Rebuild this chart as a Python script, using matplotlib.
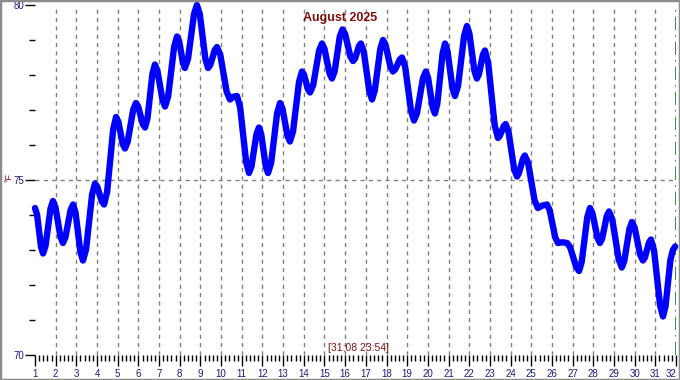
import matplotlib
matplotlib.use("Agg")
import matplotlib.pyplot as plt
from matplotlib.ticker import MultipleLocator
from matplotlib.patches import Rectangle

plt.rcParams['font.family'] = ['Liberation Sans', 'DejaVu Sans']

# Temperature readings (position on the day axis, °F)
day_pos = [1.00, 1.10, 1.29, 1.39, 1.51, 1.75, 1.87, 1.99, 2.23, 2.35,
           2.47, 2.72, 2.84, 2.96, 3.20, 3.32, 3.47, 3.76, 3.90, 4.01,
           4.23, 4.34, 4.49, 4.78, 4.92, 5.03, 5.24, 5.35, 5.48, 5.75,
           5.88, 5.99, 6.21, 6.32, 6.44, 6.68, 6.80, 6.92, 7.17, 7.29,
           7.44, 7.73, 7.87, 7.97, 8.16, 8.25, 8.40, 8.69, 8.83, 8.97,
           9.24, 9.37, 9.48, 9.69, 9.80, 9.96, 10.27, 10.43, 10.60, 10.77,
           10.92, 11.21, 11.35, 11.47, 11.71, 11.83, 11.94, 12.16, 12.27, 12.42,
           12.71, 12.85, 12.97, 13.21, 13.33, 13.48, 13.77, 13.91, 14.01, 14.20,
           14.30, 14.45, 14.74, 14.88, 15.00, 15.24, 15.36, 15.49, 15.74, 15.87,
           16.00, 16.25, 16.38, 16.48, 16.67, 16.76, 16.90, 17.17, 17.30, 17.43,
           17.70, 17.83, 17.95, 18.19, 18.31, 18.42, 18.64, 18.75, 18.90, 19.19,
           19.33, 19.47, 19.76, 19.90, 20.01, 20.23, 20.34, 20.46, 20.71, 20.83,
           20.95, 21.19, 21.31, 21.46, 21.75, 21.89, 22.01, 22.25, 22.37, 22.47,
           22.66, 22.76, 22.92, 23.23, 23.39, 23.48, 23.67, 23.76, 23.90, 24.17,
           24.31, 24.40, 24.60, 24.69, 24.85, 25.16, 25.32, 25.54, 25.76, 25.89,
           26.16, 26.29, 26.51, 26.73, 26.88, 27.17, 27.31, 27.44, 27.71, 27.84,
           27.96, 28.20, 28.32, 28.43, 28.65, 28.76, 28.92, 29.23, 29.38, 29.50,
           29.75, 29.87, 30.00, 30.27, 30.40, 30.50, 30.69, 30.79, 30.94, 31.23,
           31.37, 31.49, 31.73, 31.85, 31.96]
temp_f = [74.20, 74.01, 73.09, 72.90, 73.12, 74.18, 74.40, 74.22, 73.38, 73.20,
          73.36, 74.14, 74.30, 74.07, 72.93, 72.70, 73.02, 74.58, 74.90, 74.81,
          74.39, 74.30, 74.67, 76.44, 76.80, 76.67, 76.03, 75.90, 76.09, 77.01,
          77.20, 77.10, 76.60, 76.50, 76.76, 78.04, 78.30, 78.12, 77.28, 77.10,
          77.39, 78.81, 79.10, 78.97, 78.33, 78.20, 78.46, 79.74, 80.00, 79.74,
          78.46, 78.20, 78.29, 78.71, 78.80, 78.58, 77.52, 77.30, 77.38, 77.40,
          77.08, 75.52, 75.20, 75.39, 76.31, 76.50, 76.31, 75.39, 75.20, 75.49,
          76.91, 77.20, 77.04, 76.26, 76.10, 76.39, 77.81, 78.10, 78.01, 77.59,
          77.50, 77.70, 78.70, 78.90, 78.75, 78.05, 77.90, 78.10, 79.10, 79.30,
          79.17, 78.53, 78.40, 78.47, 78.83, 78.90, 78.67, 77.53, 77.30, 77.55,
          78.75, 79.00, 78.87, 78.23, 78.10, 78.16, 78.44, 78.50, 78.24, 76.96,
          76.70, 76.90, 77.90, 78.10, 77.92, 77.08, 76.90, 77.19, 78.61, 78.90,
          78.68, 77.62, 77.40, 77.69, 79.11, 79.40, 79.18, 78.12, 77.90, 78.02,
          78.58, 78.70, 78.33, 76.57, 76.20, 76.26, 76.54, 76.60, 76.38, 75.32,
          75.10, 75.19, 75.61, 75.70, 75.48, 74.42, 74.20, 74.27, 74.30, 74.14,
          73.36, 73.20, 73.22, 73.20, 73.08, 72.52, 72.40, 72.66, 73.94, 74.20,
          74.05, 73.35, 73.20, 73.33, 73.97, 74.10, 73.87, 72.73, 72.50, 72.69,
          73.61, 73.80, 73.64, 72.86, 72.70, 72.79, 73.21, 73.30, 72.98, 71.42,
          71.10, 71.38, 72.72, 73.00, 73.10]

day_ticks = list(range(1, 33))
temp_ticks = [70, 75, 80]
title_text = "August 2025"
stamp_text = "[31;08 23:54]"
unit_text = "°F"

W, H = 680, 380
fig = plt.figure(figsize=(W / 100, H / 100), dpi=100)
fig.patch.set_facecolor('white')
fig.add_artist(Rectangle((0, 0), 1, 1, transform=fig.transFigure, fill=False,
                         edgecolor='#8c8c8c', linewidth=2.5))

L, R, T, B = 35, 676, 5, 355
ax = fig.add_axes([L / W, 1 - B / H, (R - L) / W, (B - T) / H])
ax.set_xlim(1, 32)
ax.set_ylim(70, 80)
for s in ax.spines.values():
    s.set_visible(False)

navy = '#1a1a80'
darkred = '#801010'

ax.set_xticks(day_ticks)
ax.set_xticklabels([str(d) for d in day_ticks])
ax.xaxis.set_minor_locator(MultipleLocator(1 / 5))
ax.set_yticks(temp_ticks)
ax.yaxis.set_minor_locator(MultipleLocator(1))
ax.tick_params(axis='x', which='major', length=8, width=1, color='black',
               labelsize=7, labelcolor=navy, pad=2)
ax.tick_params(axis='x', which='minor', length=4, width=1, color='black')
ax.tick_params(axis='y', which='major', length=7, width=1, color='black',
               labelsize=7, labelcolor=navy, pad=0.5)
ax.tick_params(axis='y', which='minor', length=4, width=1, color='black')
ax.get_xticklabels()[-1].set_horizontalalignment('right')

for d in day_ticks[1:-1]:
    ax.axvline(d, color='#808080', linestyle=(0, (3, 3)), linewidth=1, zorder=1)
ax.axhline(75, color='#808080', linestyle=(0, (3, 3)), linewidth=1, zorder=1)
ax.axvline(32, color='#207020', linestyle=(0, (8, 3, 1, 3)), linewidth=1.2, zorder=1)

ax.plot(day_pos, temp_f, color='#0000ff', linewidth=4.6, solid_joinstyle='round',
        solid_capstyle='round', zorder=3, clip_on=False)

fig.text(340 / W, 1 - 18 / H, title_text, ha='center', va='center',
         fontsize=9, fontweight='bold', color=darkred)
fig.text(358 / W, 1 - 348 / H, stamp_text, ha='center', va='center',
         fontsize=7.5, color=darkred)
fig.text(9 / W, 1 - 178 / H, unit_text, ha='center', va='center',
         fontsize=6.5, color=darkred, rotation=90)

fig.savefig('out.png', dpi=100)
